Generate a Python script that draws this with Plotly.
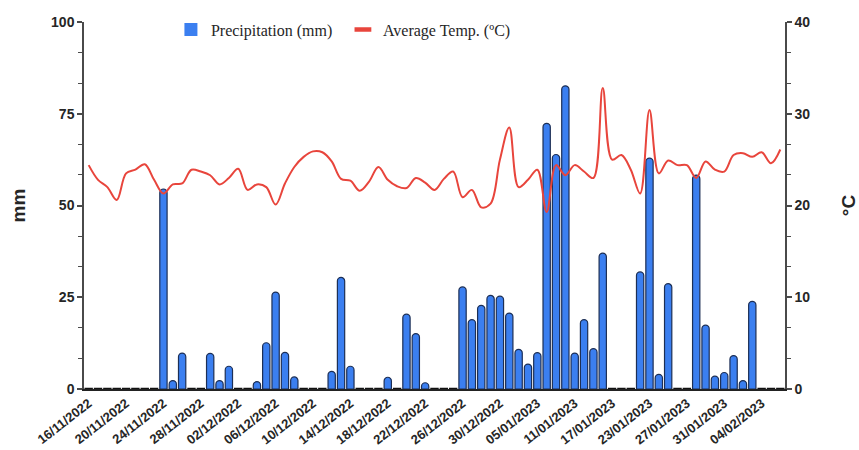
import plotly.graph_objects as go

dates = [
    "16/11/2022", "17/11/2022", "18/11/2022", "19/11/2022", "20/11/2022", "21/11/2022", "22/11/2022", "23/11/2022",
    "24/11/2022", "25/11/2022", "26/11/2022", "27/11/2022", "28/11/2022", "29/11/2022", "30/11/2022",
    "01/12/2022", "02/12/2022", "03/12/2022", "04/12/2022", "05/12/2022", "06/12/2022", "07/12/2022",
    "08/12/2022", "09/12/2022", "10/12/2022", "11/12/2022", "12/12/2022", "13/12/2022", "14/12/2022",
    "15/12/2022", "16/12/2022", "17/12/2022", "18/12/2022", "19/12/2022", "20/12/2022", "21/12/2022",
    "22/12/2022", "23/12/2022", "24/12/2022", "25/12/2022", "26/12/2022", "27/12/2022", "28/12/2022",
    "29/12/2022", "30/12/2022", "31/12/2022", "02/01/2023", "03/01/2023", "05/01/2023", "06/01/2023",
    "08/01/2023", "09/01/2023", "11/01/2023", "12/01/2023", "14/01/2023", "15/01/2023", "17/01/2023",
    "18/01/2023", "20/01/2023", "21/01/2023", "23/01/2023", "24/01/2023", "25/01/2023", "26/01/2023",
    "27/01/2023", "28/01/2023", "29/01/2023", "30/01/2023", "31/01/2023", "01/02/2023", "02/02/2023",
    "03/02/2023", "04/02/2023", "05/02/2023", "06/02/2023",
]

precipitation = [
    0, 0, 0, 0, 0, 0, 0, 0, 54.5, 2.3,
    9.8, 0, 0, 9.7, 2.3, 6.2, 0, 0, 2.0, 12.6,
    26.4, 10.0, 3.3, 0, 0, 0, 4.8, 30.4, 6.2, 0,
    0, 0, 3.2, 0, 20.4, 15.1, 1.7, 0, 0, 0,
    27.8, 18.9, 22.8, 25.5, 25.3, 20.7, 10.8, 6.8, 9.9, 72.4,
    63.9, 82.6, 9.8, 18.9, 11.0, 37.0, 0, 0, 0, 31.9,
    62.9, 4.0, 28.7, 0, 0, 58.3, 17.4, 3.5, 4.5, 9.1,
    2.3, 23.9, 0, 0, 0,
]

avg_temp = [
    24.4, 22.8, 22.0, 20.6, 23.5, 23.9, 24.5, 22.8, 21.3, 22.3,
    22.4, 23.9, 23.7, 23.3, 22.3, 23.0, 24.0, 21.7, 22.3, 22.0,
    20.1, 22.4, 24.2, 25.3, 25.9, 25.8, 24.8, 22.9, 22.7, 21.6,
    22.6, 24.2, 22.8, 22.1, 21.9, 23.0, 22.5, 21.7, 22.9, 23.7,
    20.9, 21.7, 19.8, 20.2, 25.0, 28.5, 22.0, 22.8, 23.9, 19.3,
    24.4, 23.3, 24.4, 23.7, 23.0, 32.8, 25.0, 25.5, 23.9, 21.3,
    30.4, 23.5, 24.9, 24.4, 24.4, 23.0, 24.8, 23.9, 23.7, 25.5,
    25.7, 25.3, 25.8, 24.6, 26.1,
]

tick_labels = [
    "16/11/2022", "20/11/2022", "24/11/2022", "28/11/2022", "02/12/2022", "06/12/2022",
    "10/12/2022", "14/12/2022", "18/12/2022", "22/12/2022", "26/12/2022", "30/12/2022",
    "05/01/2023", "11/01/2023", "17/01/2023", "23/01/2023", "27/01/2023", "31/01/2023", "04/02/2023",
]

zero_dates = [d for d, p in zip(dates, precipitation) if p == 0]
zero_vals = [0 for d, p in zip(dates, precipitation) if p == 0]

AX = "#4a4a4a"
TXT = "#262626"
BLUE = "#3b7ff0"
RED = "#e8453c"
tick_font = dict(family="Liberation Sans Narrow, Liberation Sans, Arial", size=14, color=TXT, weight="bold")

fig = go.Figure()
fig.add_trace(go.Bar(
    x=dates, y=precipitation, name="Precipitation (mm)", showlegend=False,
    marker=dict(color=BLUE, line=dict(color="#1d2f55", width=1.2), cornerradius=4),
    width=0.78, yaxis="y",
))
fig.add_trace(go.Scatter(
    x=zero_dates, y=zero_vals, mode="markers", showlegend=False, hoverinfo="skip",
    marker=dict(symbol="line-ew", size=6, color="#111", line=dict(color="#111", width=2.5)),
    yaxis="y", cliponaxis=False,
))
fig.add_trace(go.Scatter(
    x=dates, y=avg_temp, name="Average Temp. (ºC)", mode="lines", showlegend=False,
    line=dict(color=RED, width=2, shape="spline", smoothing=1.0),
    yaxis="y2",
))
# legend entries
fig.add_trace(go.Scatter(
    x=[None], y=[None], mode="markers", name="Precipitation (mm)",
    marker=dict(symbol="square", size=13, color=BLUE, line=dict(width=0)),
))
fig.add_trace(go.Scatter(
    x=[None], y=[None], mode="markers", name="Average Temp. (ºC)",
    marker=dict(symbol="line-ew", size=12, color=RED, line=dict(color=RED, width=4.5)),
))

fig.update_layout(
    width=859, height=450,
    margin=dict(l=84, r=74, t=22, b=61, autoexpand=False),
    plot_bgcolor="white", paper_bgcolor="white",
    showlegend=True,
    legend=dict(orientation="h", x=0.124, y=0.972, yref="container", xanchor="left", yanchor="top",
                font=dict(family="Liberation Serif, Times New Roman", size=16, color=TXT),
                bgcolor="rgba(0,0,0,0)", itemwidth=30, traceorder="normal", entrywidth=127),
    xaxis=dict(
        type="category", categoryorder="array", categoryarray=dates,
        range=[-0.5, len(dates) - 0.5], automargin=False,
        tickmode="array", tickvals=tick_labels, ticktext=tick_labels,
        tickangle=-38, tickfont=dict(family="Liberation Sans Narrow, Liberation Sans, Arial", size=13, color=TXT, weight="bold"),
        showline=True, linecolor="#222", linewidth=1.5, ticks="", showgrid=False, zeroline=False,
    ),
    yaxis=dict(
        range=[0, 100], tickvals=[0, 25, 50, 75, 100], tickfont=tick_font, automargin=False,
        showline=True, linecolor=AX, linewidth=1.5, ticks="outside", ticklen=5, tickwidth=1.5, tickcolor=AX,
        minor=dict(ticks="outside", dtick=25 / 3, ticklen=4, tickcolor=AX, tickwidth=1.2, showgrid=False),
        showgrid=False, zeroline=False,
        title=dict(text="mm", font=dict(family="Liberation Sans, Arial", size=19, color=TXT, weight="bold"), standoff=20),
    ),
    yaxis2=dict(
        range=[0, 40], tickvals=[0, 10, 20, 30, 40], tickfont=tick_font, automargin=False,
        overlaying="y", side="right", anchor="x",
        showline=True, linecolor=AX, linewidth=1.5, ticks="outside", ticklen=5, tickwidth=1.5, tickcolor=AX,
        minor=dict(ticks="outside", dtick=10 / 3, ticklen=4, tickcolor=AX, tickwidth=1.2, showgrid=False),
        showgrid=False, zeroline=False,
        title=dict(text="°C", font=dict(family="Liberation Sans, Arial", size=19, color=TXT, weight="bold"), standoff=32),
    ),
    yaxis3=dict(
        range=[0, 100], overlaying="y", side="left", anchor="x", tickvals=[0, 25, 50, 75, 100],
        showticklabels=False, ticks="inside", ticklen=5, tickwidth=1.5, tickcolor=AX, automargin=False,
        minor=dict(ticks="inside", dtick=25 / 3, ticklen=4, tickcolor=AX, tickwidth=1.2, showgrid=False),
        showgrid=False, zeroline=False, showline=False,
    ),
    yaxis4=dict(
        range=[0, 40], overlaying="y", side="right", anchor="x", tickvals=[0, 10, 20, 30, 40],
        showticklabels=False, ticks="inside", ticklen=5, tickwidth=1.5, tickcolor=AX, automargin=False,
        minor=dict(ticks="inside", dtick=10 / 3, ticklen=4, tickcolor=AX, tickwidth=1.2, showgrid=False),
        showgrid=False, zeroline=False, showline=False,
    ),
)

fig.write_html("out.html")
